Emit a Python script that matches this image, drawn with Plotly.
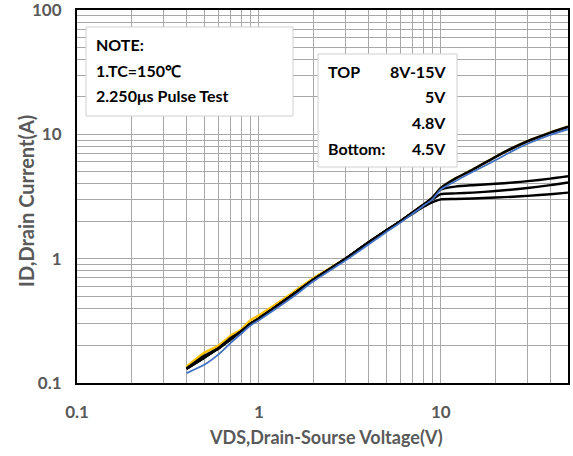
import plotly.graph_objects as go

vds = [0.4, 0.5, 0.6, 0.7, 0.8, 0.9, 1, 1.5, 2, 3, 4, 5, 6, 7, 8, 9, 10, 12, 15, 20, 25, 30, 40, 50]

id_15v = [0.13, 0.165, 0.19, 0.23, 0.26, 0.30, 0.33, 0.50, 0.68, 1.0, 1.35, 1.68, 2.0, 2.35, 2.7, 3.1, 3.7, 4.4, 5.2, 6.6, 7.8, 8.8, 10.3, 11.5]
id_10v = [0.12, 0.14, 0.17, 0.21, 0.25, 0.29, 0.32, 0.48, 0.66, 0.97, 1.3, 1.63, 1.95, 2.3, 2.65, 3.0, 3.6, 4.2, 5.0, 6.2, 7.4, 8.4, 9.9, 11.0]
id_8v = [0.135, 0.175, 0.2, 0.24, 0.27, 0.32, 0.35, 0.52, 0.70, 1.0, 1.35, 1.68, 2.0, 2.35, 2.7, 3.1, 3.7, 4.4, 5.2, 6.6, 7.8, 8.8, 10.3, 11.5]
id_5v = [0.13, 0.16, 0.19, 0.225, 0.26, 0.30, 0.33, 0.50, 0.68, 1.0, 1.35, 1.68, 2.0, 2.35, 2.7, 3.1, 3.6, 3.8, 3.9, 4.0, 4.1, 4.2, 4.4, 4.6]
id_48v = [0.13, 0.16, 0.19, 0.225, 0.26, 0.30, 0.33, 0.50, 0.68, 1.0, 1.35, 1.68, 2.0, 2.35, 2.7, 3.0, 3.3, 3.35, 3.4, 3.5, 3.6, 3.7, 3.9, 4.1]
id_45v = [0.13, 0.16, 0.19, 0.225, 0.26, 0.30, 0.33, 0.50, 0.68, 1.0, 1.35, 1.68, 2.0, 2.3, 2.6, 2.85, 3.0, 3.02, 3.05, 3.1, 3.15, 3.2, 3.3, 3.4]

x_ticks = [0.1, 1, 10]
x_tick_labels = ["0.1", "1", "10"]
y_ticks = [0.1, 1, 10, 100]
y_tick_labels = ["0.1", "1", "10", "100"]

x_title = "VDS,Drain-Sourse Voltage(V)"
y_title = "ID,Drain Current(A)"
note_lines = ["NOTE:", "1.TC=150℃", "2.250μs Pulse Test"]
legend_left = ["TOP", "", "", "Bottom:"]
legend_right = ["8V-15V", "5V", "4.8V", "4.5V"]

FONT = "Lato"
GRAY = "#595959"

fig = go.Figure()
series = [
    (id_8v, "#FFC000", 2.5),
    (id_45v, "black", 2.4),
    (id_48v, "black", 2.4),
    (id_5v, "black", 2.4),
    (id_15v, "black", 2.6),
    (id_10v, "#4472C4", 1.8),
]
for ys, col, w in series:
    fig.add_trace(go.Scatter(x=vds, y=ys, mode="lines", line=dict(color=col, width=w, shape="spline", smoothing=0.6),
                             showlegend=False, hoverinfo="skip"))

grid = "#a8a8a8"
fig.update_xaxes(type="log", range=[-1, 1.699], tickvals=x_ticks, ticktext=x_tick_labels,
                 showgrid=True, gridcolor=grid, gridwidth=1,
                 minor=dict(showgrid=True, gridcolor=grid, gridwidth=1, dtick="D1"),
                 showline=True, linecolor="black", linewidth=2, mirror=True,
                 ticks="", ticklabelstandoff=13, automargin=False, ticklabeloverflow="allow",
                 tickfont=dict(family=FONT, size=17, color=GRAY, weight="bold"),
                 zeroline=False)
fig.update_yaxes(type="log", range=[-1, 2], tickvals=y_ticks, ticktext=y_tick_labels,
                 showgrid=True, gridcolor=grid, gridwidth=1,
                 minor=dict(showgrid=True, gridcolor=grid, gridwidth=1, dtick="D1"),
                 showline=True, linecolor="black", linewidth=2, mirror=True,
                 ticks="", ticklabelstandoff=10, automargin=False, ticklabeloverflow="allow",
                 tickfont=dict(family=FONT, size=17, color=GRAY, weight="bold"),
                 zeroline=False)

W, H = 573, 456
L, R, T, B = 77, 5, 10, 73
pw, ph = W - L - R, H - T - B

def px(x):
    return (x - L) / pw

def py(y):
    return 1 - (y - T) / ph

shapes = [
    dict(type="rect", xref="paper", yref="paper", x0=px(86), x1=px(293), y0=py(116), y1=py(27),
         fillcolor="white", line=dict(color="#d0d0d0", width=1), layer="above"),
    dict(type="rect", xref="paper", yref="paper", x0=px(318), x1=px(457), y0=py(167), y1=py(54),
         fillcolor="white", line=dict(color="#d0d0d0", width=1), layer="above"),
]
annotations = [
    dict(xref="paper", yref="paper", x=px(326), y=py(437), text=x_title, showarrow=False,
         xanchor="center", yanchor="middle",
         font=dict(family=FONT, size=18, color=GRAY, weight="bold")),
    dict(xref="paper", yref="paper", x=px(26), y=py(201), text=y_title, showarrow=False, textangle=-90,
         xanchor="center", yanchor="middle",
         font=dict(family=FONT, size=20, color=GRAY, weight="bold")),
]
for i, t in enumerate(note_lines):
    annotations.append(dict(xref="paper", yref="paper", x=px(94), y=py(44 + 26 * i), text=t, showarrow=False,
                            xanchor="left", yanchor="middle",
                            font=dict(family=FONT, size=16, color="black", weight="bold")))
for i, t in enumerate(legend_left):
    if t:
        annotations.append(dict(xref="paper", yref="paper", x=px(326), y=py(71 + 25.7 * i), text=t, showarrow=False,
                                xanchor="left", yanchor="middle",
                                font=dict(family=FONT, size=16, color="black", weight="bold")))
for i, t in enumerate(legend_right):
    annotations.append(dict(xref="paper", yref="paper", x=px(448), y=py(71 + 25.7 * i), text=t, showarrow=False,
                            xanchor="right", yanchor="middle",
                            font=dict(family=FONT, size=16, color="black", weight="bold")))

fig.update_layout(width=W, height=H, margin=dict(l=L, r=R, t=T, b=B),
                  plot_bgcolor="white", paper_bgcolor="white",
                  shapes=shapes, annotations=annotations)

fig.write_html("out.html", config={"displayModeBar": False},
               post_script="document.body.style.margin='0';")
